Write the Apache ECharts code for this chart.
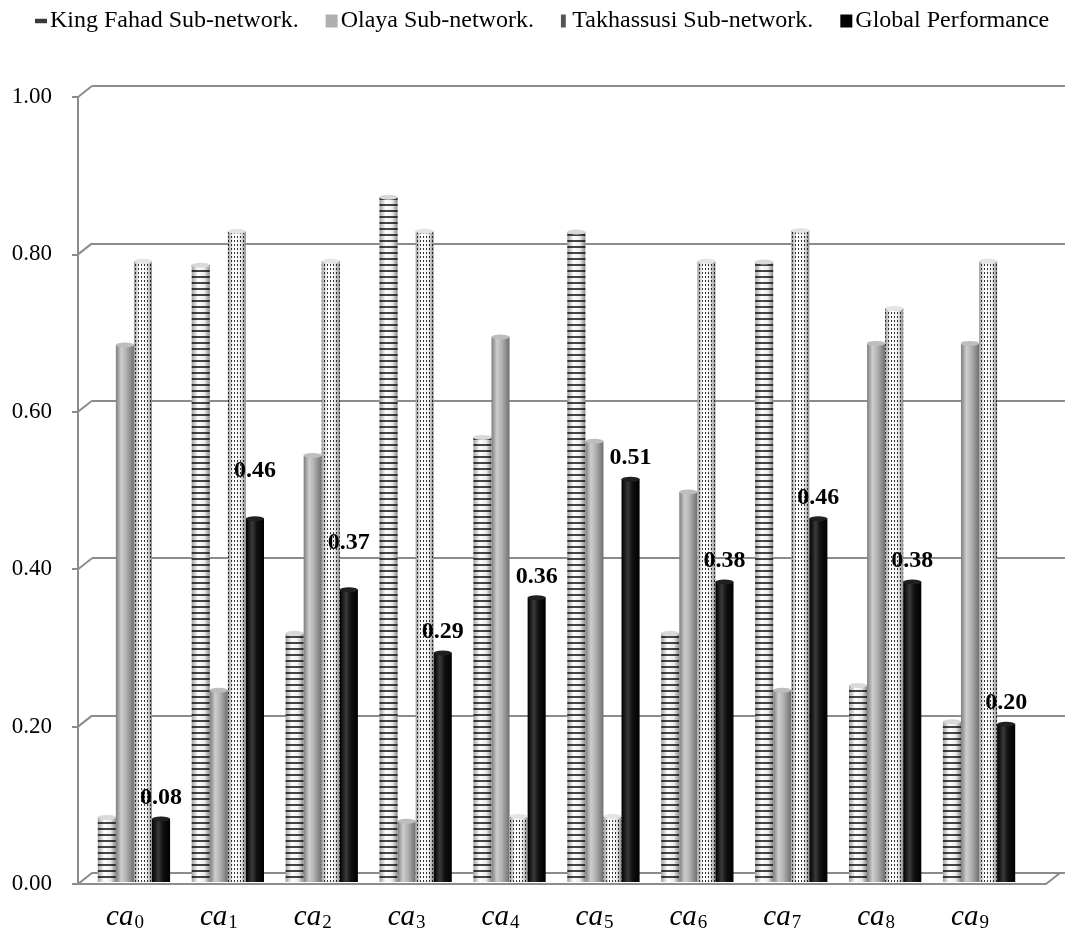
<!DOCTYPE html>
<html>
<head>
<meta charset="utf-8">
<script src="https://cdn.jsdelivr.net/npm/echarts@6/dist/echarts.min.js"></script>
<style>
  html, body { margin: 0; padding: 0; background: #fff; }
  #chart { width: 1065px; height: 945px; }
</style>
</head>
<body>
<div id="chart"></div>
<script>
// Coverage of each sub-network per candidate (ca0..ca9) and the global score
const categories = ['ca0', 'ca1', 'ca2', 'ca3', 'ca4', 'ca5', 'ca6', 'ca7', 'ca8', 'ca9'];
const kingFahad  = [0.082, 0.781, 0.315, 0.867, 0.563, 0.823, 0.315, 0.785, 0.249, 0.203];
const olaya      = [0.680, 0.243, 0.540, 0.077, 0.690, 0.558, 0.494, 0.243, 0.682, 0.682];
const takhassusi = [0.786, 0.824, 0.786, 0.824, 0.083, 0.083, 0.786, 0.825, 0.726, 0.786];
const globalPerf = [0.08, 0.46, 0.37, 0.29, 0.36, 0.51, 0.38, 0.46, 0.38, 0.20];
const seriesNames = ['King Fahad Sub-network.', 'Olaya Sub-network.', 'Takhassusi Sub-network.', 'Global Performance'];
const yTicks = [0, 0.2, 0.4, 0.6, 0.8, 1.0];

const SERIF = 'Liberation Serif';
const FRAME = '#8c8c8c';

// front edge of the side wall / back wall offset (pseudo 3D frame)
const FRONT_X = 78, BACK_X = 92;
const FLOOR_FRONT_RIGHT = 1046, FLOOR_BACK_RIGHT = 1060;

// a couple of value labels are lifted higher above their columns
const raisedLabels = { 1: -27, 2: -26 };

function grad(stops) {
  return new echarts.graphic.LinearGradient(0, 0, 1, 0,
    stops.map(s => ({ offset: s[0], color: s[1] })));
}

const bodyStyles = [
  { color: grad([[0, '#a0a0a0'], [0.35, '#ffffff'], [0.7, '#ececec'], [1, '#8a8a8a']]),
    decal: { symbol: 'rect', symbolSize: 1, color: 'rgba(0,0,0,0.72)', dashArrayX: [1, 0], dashArrayY: [1.2, 3.3], rotation: 0 } },
  { color: grad([[0, '#7e7e7e'], [0.3, '#cdcdcd'], [0.55, '#b4b4b4'], [1, '#6f6f6f']]) },
  { color: grad([[0, '#9c9c9c'], [0.3, '#ffffff'], [0.7, '#f0f0f0'], [1, '#8e8e8e']]),
    decal: { symbol: 'rect', symbolSize: 1, color: 'rgba(0,0,0,0.8)', dashArrayX: [1, 2], dashArrayY: [1.2, 1.2], rotation: 0 } },
  { color: grad([[0, '#000000'], [0.35, '#3a3a3a'], [0.6, '#111111'], [1, '#000000']]) }
];
const capColors = ['#d9d9d9', '#bdbdbd', '#e4e4e4', '#202020'];
const dataSets = [kingFahad, olaya, takhassusi, globalPerf];

const BAR_CAT_GAP = '23%';
const BAR_GAP = '0%';

const series = [];
dataSets.forEach((d, i) => {
  const s = {
    name: seriesNames[i],
    type: 'bar',
    xAxisIndex: 0, yAxisIndex: 0,
    data: d,
    barGap: BAR_GAP,
    barCategoryGap: BAR_CAT_GAP,
    itemStyle: bodyStyles[i],
    z: 3,
    animation: false
  };
  if (i === 3) {
    s.data = d.map((v, k) => raisedLabels[k] !== undefined
      ? { value: v, label: { offset: [0, raisedLabels[k]] } }
      : v);
    s.label = {
      show: true, position: 'top', distance: 9,
      formatter: p => p.value.toFixed(2),
      fontFamily: SERIF, fontWeight: 'bold', fontSize: 24, color: '#000'
    };
  }
  series.push(s);
});
// elliptical caps on top of each column
dataSets.forEach((d, i) => {
  series.push({
    name: 'cap' + i,
    type: 'pictorialBar',
    xAxisIndex: 0, yAxisIndex: 0,
    data: d,
    barGap: BAR_GAP,
    barCategoryGap: BAR_CAT_GAP,
    symbol: 'circle',
    symbolSize: ['100%', 5],
    symbolPosition: 'end',
    symbolOffset: [0, '-50%'],
    itemStyle: { color: capColors[i], borderColor: i === 3 ? '#000' : '#8a8a8a', borderWidth: 0.6 },
    z: 4,
    silent: true,
    animation: false
  });
});

const chart = echarts.init(document.getElementById('chart'), null, { renderer: 'canvas' });

chart.setOption({
  backgroundColor: '#ffffff',
  animation: false,
  legend: {
    left: 30, top: 4,
    itemWidth: 12, itemHeight: 13, itemGap: 27,
    symbolKeepAspect: true,
    textStyle: { fontFamily: SERIF, fontSize: 24, color: '#000', padding: [0, 0, 0, -2] },
    data: [
      { name: seriesNames[0], icon: 'path://M0,0H8V3H0Z', itemStyle: { color: '#3a3a3a', decal: 'none' } },
      { name: seriesNames[1], icon: 'rect', itemStyle: { color: '#b0b0b0', decal: 'none' } },
      { name: seriesNames[2], icon: 'path://M0,0H3V8H0Z', itemStyle: { color: '#555555', decal: 'none' } },
      { name: seriesNames[3], icon: 'rect', itemStyle: { color: '#000000', decal: 'none' } }
    ]
  },
  grid: [
    { left: 87, right: 39, top: 92, bottom: 63 },      // columns
    { left: BACK_X, right: 0, top: 86, bottom: 72 },    // back wall
    { left: FRONT_X, width: 1, top: 97, bottom: 61 }    // front value axis
  ],
  xAxis: [
    {
      type: 'category', gridIndex: 0, data: categories,
      axisLine: { show: false }, axisTick: { show: false },
      axisLabel: {
        margin: 20,
        padding: [0, 18, 0, 0],
        formatter: v => '{i|' + v.slice(0, 2) + '}{s|' + v.slice(2) + '}',
        rich: {
          i: { fontFamily: SERIF, fontStyle: 'italic', fontSize: 29, color: '#000' },
          s: { fontFamily: SERIF, fontSize: 19, color: '#000', padding: [12, 0, 0, 1] }
        }
      }
    },
    { type: 'value', gridIndex: 1, show: false },
    { type: 'value', gridIndex: 2, show: false }
  ],
  yAxis: [
    { type: 'value', gridIndex: 0, min: 0, max: 1, interval: 0.2, show: false },
    {
      type: 'value', gridIndex: 1, min: 0, max: 1, interval: 0.2,
      axisLine: { show: false }, axisTick: { show: false }, axisLabel: { show: false },
      splitLine: { show: true, lineStyle: { color: FRAME, width: 2 } }
    },
    {
      type: 'value', gridIndex: 2, min: 0, max: 1, interval: 0.2,
      axisLine: { show: true, lineStyle: { color: FRAME, width: 2 } },
      axisTick: { show: true, length: 6, lineStyle: { color: FRAME, width: 2 } },
      splitLine: { show: false },
      axisLabel: {
        margin: 26,
        fontFamily: SERIF, fontSize: 23, color: '#000',
        formatter: v => v.toFixed(2)
      }
    }
  ],
  series: series
});

// side-wall connectors and floor of the pseudo 3D frame, placed via the axes
function drawFrame() {
  const elements = [];
  yTicks.forEach(v => {
    const yf = chart.convertToPixel({ yAxisIndex: 2 }, v);
    const yb = chart.convertToPixel({ yAxisIndex: 1 }, v);
    if (v > 0) {
      elements.push({
        type: 'line', z: 1, silent: true,
        shape: { x1: FRONT_X, y1: yf, x2: BACK_X, y2: yb },
        style: { stroke: FRAME, lineWidth: 2 }
      });
    }
  });
  const yf0 = chart.convertToPixel({ yAxisIndex: 2 }, 0);
  const yb0 = chart.convertToPixel({ yAxisIndex: 1 }, 0);
  elements.push({
    type: 'polygon', z: 1, silent: true,
    shape: { points: [[FRONT_X, yf0], [FLOOR_FRONT_RIGHT, yf0], [FLOOR_BACK_RIGHT, yb0], [BACK_X, yb0]] },
    style: { fill: '#ffffff', stroke: FRAME, lineWidth: 2 }
  });
  chart.setOption({ graphic: elements });
}
drawFrame();
</script>
</body>
</html>
